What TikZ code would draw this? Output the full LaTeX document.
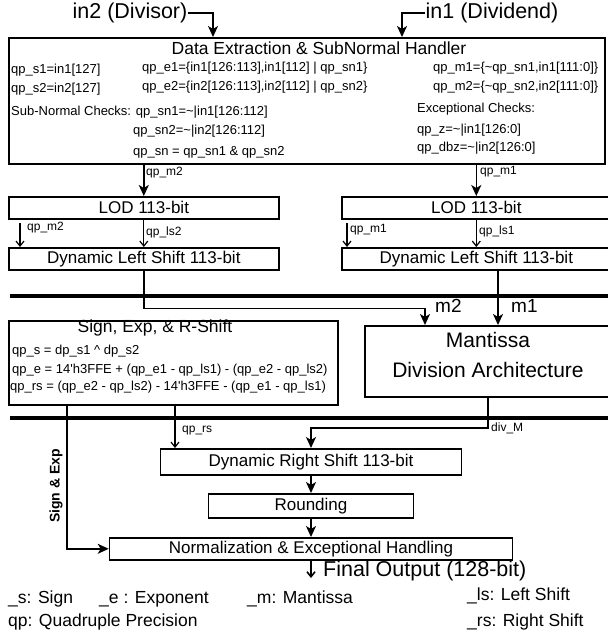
\documentclass[tikz,border=0pt]{standalone}
\usepackage{fontspec}
\setmainfont{Liberation Sans}
\usetikzlibrary{arrows.meta}
\usetikzlibrary{positioning}

\tikzset{
  blk/.style={draw, line width=1.6pt, inner sep=0pt, font=\fontsize{17}{20}\selectfont},
  ttl/.style={inner sep=0pt, font=\fontsize{17.5}{20}\selectfont},
  txt/.style={inner sep=0pt, anchor=west, font=\fontsize{13}{15}\selectfont},
  lbl/.style={inner sep=0pt, anchor=west, font=\fontsize{12}{14}\selectfont},
  bigt/.style={inner sep=0pt, font=\fontsize{21.5}{25}\selectfont},
  leg/.style={inner sep=0pt, anchor=west, font=\fontsize{17.5}{20}\selectfont},
  bus/.style={line width=4.5pt},
  wire/.style={line width=1.6pt, -{Stealth[length=11pt,width=10pt,inset=3pt]}},
  tip/.style={line width=1.2pt, -{Straight Barb[length=5pt,width=8pt]}}
}

\begin{document}
\begin{tikzpicture}[x=1pt,y=-1pt]
    \useasboundingbox (0,0) rectangle (608,638);

    \node[bigt] (in2) at (130,13) {in2 (Divisor)};
    \node[bigt] (in1) at (492,13) {in1 (Dividend)};

    \node[blk, minimum width=596, minimum height=126, anchor=north west] (dex) at (8,37) {};
    \node[ttl] (dext) at (319,48) {Data Extraction \& SubNormal Handler};
    \node[txt] (s1) at (11,70) {qp\_s1=in1[127]};
    \node[txt] (s2) at (11,89) {qp\_s2=in2[127]};
    \node[txt] (e1) at (142,68) {qp\_e1=\{in1[126:113],in1[112] | qp\_sn1\}};
    \node[txt] (e2) at (142,87) {qp\_e2=\{in2[126:113],in2[112] | qp\_sn2\}};
    \node[txt] (m1) at (433,68) {qp\_m1=\{\textasciitilde qp\_sn1,in1[111:0]\}};
    \node[txt] (m2) at (433,87) {qp\_m2=\{\textasciitilde qp\_sn2,in2[111:0]\}};
    \node[txt] (sn1) at (11,112) {Sub-Normal Checks: qp\_sn1=\textasciitilde|in1[126:112]};
    \node[txt] (sn2) at (133,131) {qp\_sn2=\textasciitilde|in2[126:112]};
    \node[txt] (sn) at (133,152) {qp\_sn = qp\_sn1 \& qp\_sn2};
    \node[txt] (exc) at (417,109) {Exceptional Checks:};
    \node[txt] (z) at (417,130) {qp\_z=\textasciitilde|in1[126:0]};
    \node[txt] (dbz) at (417,148) {qp\_dbz=\textasciitilde|in2[126:0]};

    \coordinate (d2) at (213,37);
    \coordinate (d1) at (402,37);
    \draw[wire] (in2.east) -| (d2);
    \draw[wire] (in1.west) -| (d1);

    \node[blk, minimum width=270, minimum height=22, anchor=north west] (lod2) at (8,196) {LOD 113-bit};
    \node[blk, minimum width=270, minimum height=22, anchor=north west] (dls2) at (8,247) {Dynamic Left Shift 113-bit};
    \node[blk, minimum width=269, minimum height=22, anchor=north west] (lod1) at (341,196) {LOD 113-bit};
    \node[blk, minimum width=269, minimum height=22, anchor=north west] (dls1) at (341,247) {Dynamic Left Shift 113-bit};

    \draw[wire] (dex.south -| lod2.north) -- (lod2.north);
    \node[lbl] (lm2) at (146,173) {qp\_m2};
    \draw[wire] (dex.south -| lod1.north) -- (lod1.north);
    \node[lbl] (lm1) at (480,172) {qp\_m1};

    \coordinate (m2s) at (20,223);
    \coordinate (m1s) at (347,223);
    \draw[tip] (m2s) -- (m2s |- dls2.north);
    \node[lbl] (lm2s) at (27,228) {qp\_m2};
    \draw[tip] (lod2.south) -- (dls2.north);
    \node[lbl] (lls2) at (146,232) {qp\_ls2};
    \draw[tip] (m1s) -- (m1s |- dls1.north);
    \node[lbl] (lm1s) at (350,230) {qp\_m1};
    \draw[tip] (lod1.south) -- (dls1.north);
    \node[lbl] (lls1) at (479,231) {qp\_ls1};

    \draw[bus] (10,296) -- (610,296);

    \node[blk, minimum width=246, minimum height=71, anchor=north west] (mant) at (364,325) {};
    \node[align=center, inner sep=0pt, font=\fontsize{21}{30}\selectfont] (mantt) at (488,355) {Mantissa\\Division Architecture};
    \coordinate (m2in) at (425,325);
    \coordinate (m1out) at (498,269);
    \draw[wire] (dls2.south) -- ++(0,38) -| (m2in);
    \draw[wire] (m1out) -- (m1out |- mant.north);
    \node[inner sep=0pt, anchor=west, font=\fontsize{19}{22}\selectfont] (lblm2) at (435,306) {m2};
    \node[inner sep=0pt, anchor=west, font=\fontsize{19}{22}\selectfont] (lblm1) at (511,306) {m1};

    \node[blk, minimum width=329, minimum height=84, anchor=north west] (sgn) at (8,320) {};
    \node[ttl] (sgnt) at (155,328) {Sign, Exp, \& R-Shift};
    \node[txt] (qs) at (12,351) {qp\_s = dp\_s1 \textasciicircum{} dp\_s2};
    \node[txt] (qe) at (12,370) {qp\_e = 14\textquotesingle h3FFE + (qp\_e1 - qp\_ls1) - (qp\_e2 - qp\_ls2)};
    \node[txt] (qrs) at (10,387) {qp\_rs = (qp\_e2 - qp\_ls2) - 14\textquotesingle h3FFE - (qp\_e1 - qp\_ls1)};

    \draw[bus] (10,418) -- (610,418);

    \node[blk, minimum width=301, minimum height=26, anchor=north] (drs) at (311,448) {Dynamic Right Shift 113-bit};
    \node[blk, minimum width=205, minimum height=24, anchor=north] (rnd) at (311,493) {Rounding};
    \node[blk, minimum width=403, minimum height=22, anchor=north] (norm) at (311,537) {Normalization \& Exceptional Handling};

    \coordinate (seout) at (67,404);
    \coordinate (rsout) at (175,404);
    \coordinate (divm) at (311,428);
    \draw[wire] (seout) |- (norm.west);
    \node[rotate=90, inner sep=0pt, font=\bfseries\fontsize{14}{16}\selectfont] (selbl) at (56,486) {Sign \& Exp};
    \draw[tip] (rsout) -- (rsout |- drs.north);
    \node[lbl] (lrs) at (182,431) {qp\_rs};
    \draw[wire] (mant.south) |- (divm) -- (drs.north);
    \node[lbl] (ldiv) at (491,428) {div\_M};
    \draw[wire] (drs.south) -- (rnd.north);
    \draw[wire] (rnd.south) -- (norm.north);

    \coordinate (fout) at (311,578);
    \draw[tip, line width=1.6pt] (norm.south) -- (fout);
    \node[bigt, anchor=west] (final) at (323,571) {Final Output (128-bit)};

    \node[leg] (ls) at (8,599) {\_s: Sign};
    \node[leg] (le) at (99,599) {\_e : Exponent};
    \node[leg] (lm) at (247,599) {\_m: Mantissa};
    \node[leg] (lls) at (467,596) {\_ls: Left Shift};
    \node[leg] (lqp) at (8,622) {qp: Quadruple Precision};
    \node[leg] (lrsh) at (467,622) {\_rs: Right Shift};
\end{tikzpicture}
\end{document}
